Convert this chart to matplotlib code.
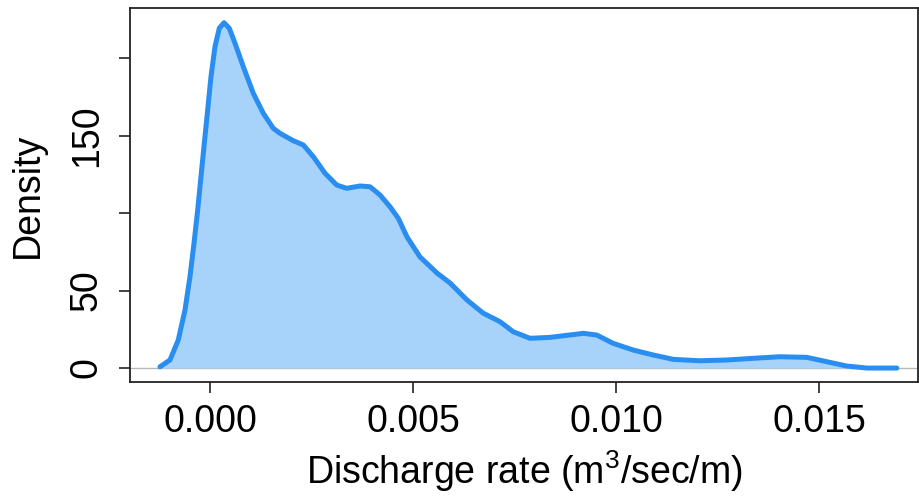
import matplotlib
matplotlib.use('Agg')
import matplotlib.pyplot as plt

plt.rcParams['font.family'] = ['Liberation Sans', 'DejaVu Sans']
plt.rcParams['mathtext.fontset'] = 'custom'
plt.rcParams['mathtext.rm'] = 'Liberation Sans'

# ── 데이터 (그림에서 읽은 밀도 곡선) ──────────────────────────────────────────
rate = [-0.001232, -0.000985, -0.000781, -0.000616, -0.000493, -0.000394,
        -0.000303, -0.000222, -0.000140, -0.0000567, 0.0000246, 0.000123,
        0.000229, 0.000345, 0.000475, 0.000616, 0.00082, 0.001067,
        0.001313, 0.001559, 0.001724, 0.002052, 0.002298, 0.002544,
        0.002833, 0.003121, 0.003367, 0.003695, 0.003941, 0.004187,
        0.004433, 0.004638, 0.004852, 0.005172, 0.005591, 0.005911,
        0.00633, 0.006724, 0.007143, 0.00747, 0.007882, 0.008374,
        0.009195, 0.009525, 0.009933, 0.010426, 0.010919, 0.011411,
        0.012069, 0.012726, 0.013382, 0.014039, 0.014697, 0.015189,
        0.015682, 0.016175, 0.016914]
density = [0.8, 5.2, 18.1, 37.4, 58.9, 80.5,
           102, 123.5, 145.1, 166.6, 188.1, 207.4,
           219.3, 222.9, 219.3, 209.6, 194.5, 177.3,
           164.4, 154.7, 151.5, 146.7, 144, 136.4,
           125.7, 118.1, 116, 117.5, 117, 111.7,
           104.1, 96.6, 84.6, 71.7, 61.3, 54.9,
           43.9, 35.5, 29.9, 23.4, 19.2, 19.8,
           22.4, 21.3, 15.9, 11.6, 8.4, 5.6,
           4.7, 5.2, 6.3, 7.3, 6.9, 4.1,
           1.3, 0, 0]

x_ticks = [0.0, 0.005, 0.010, 0.015]
x_labels = ['0.000', '0.005', '0.010', '0.015']
y_ticks = [0, 50, 100, 150, 200]
y_labels = ['0', '50', '', '150', '']

LINE = '#2a8ef0'
FILL = '#a7d3fa'

fig = plt.figure(figsize=(9.2, 4.97), dpi=100, facecolor='white')
ax = fig.add_axes([0.1413, 0.2314, 0.8567, 0.7526])

ax.axhline(0, color='#b8b8b8', lw=1.0, zorder=1)
ax.fill_between(rate, density, 0, color=FILL, lw=0, zorder=2)
ax.plot(rate, density, color=LINE, lw=3.6, solid_capstyle='round',
        solid_joinstyle='round', zorder=3)

ax.set_xlim(-0.00197, 0.01744)
ax.set_ylim(-9.0, 232.4)

ax.set_xticks(x_ticks)
ax.set_xticklabels(x_labels)
ax.set_yticks(y_ticks)
ax.set_yticklabels(y_labels, rotation=90, va='center')

ax.tick_params(axis='both', direction='out', length=8, width=1.2,
               labelsize=27, color='#222222')
ax.tick_params(axis='x', pad=8)
ax.tick_params(axis='y', pad=10)

for sp in ax.spines.values():
    sp.set_linewidth(1.3)
    sp.set_color('#222222')

ax.set_xlabel('Discharge rate (m$^{3}$/sec/m)', fontsize=27, labelpad=6)
ax.set_ylabel('Density', fontsize=27, labelpad=17)

plt.savefig('out.png', dpi=100, facecolor=fig.get_facecolor())
